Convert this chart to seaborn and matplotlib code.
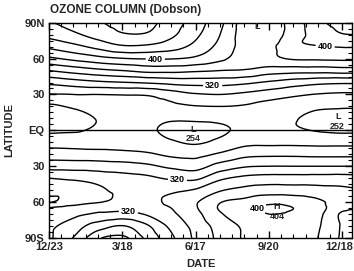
import numpy as np
import matplotlib
matplotlib.use("Agg")
import matplotlib.pyplot as plt
import matplotlib.tri as mtri
import matplotlib.transforms as mtrans
import seaborn as sns

# ---- data ----
# time axis in half-month steps from 12/23
times = [0, 2, 4, 6, 8, 10, 12, 14, 16, 18, 20, 22, 24, 25]
lats = [90, 80, 70, 60, 50, 40, 30, 20, 10, 0, -10, -20, -30, -40, -50, -60, -65, -70, -80, -90]
ozone = [
    [438, 448, 458, 466, 466, 450, 430, 405, 372, 370, 388, 415, 425, 426],   # 90N
    [426, 436, 448, 458, 458, 444, 424, 400, 372, 372, 388, 410, 419, 420],   # 80
    [404, 414, 426, 437, 436, 428, 414, 394, 374, 376, 394, 399, 401, 401],   # 70
    [376, 385, 393, 399, 401, 401, 396, 384, 372, 376, 382, 383, 384, 384],   # 60
    [340, 348, 355, 360, 366, 366, 363, 360, 358, 350, 348, 348, 350, 350],   # 50
    [305, 311, 316, 319, 322, 326, 328, 328, 324, 317, 310, 305, 303, 303],   # 40
    [279, 280, 280, 281, 282, 290, 298, 300, 296, 290, 284, 279, 277, 277],   # 30
    [257, 262, 266, 268, 270, 275, 279, 280, 278, 272, 266, 263, 262, 262],   # 20
    [254, 256, 260.5, 264, 264, 262, 263, 264, 266, 264, 261, 256, 253, 253], # 10
    [257, 258.5, 262, 264, 262, 257, 255, 258, 263, 264, 262, 259, 257, 257], # EQ
    [272, 271, 270, 270, 267, 262, 258, 264, 274, 275, 275, 274, 274, 274],   # 10S
    [290, 289, 288, 286, 283, 276, 274, 283, 294, 296, 296, 295, 295, 295],   # 20S
    [312, 311, 310, 308, 304, 296, 292, 308, 318, 320, 320, 320, 320, 320],   # 30S
    [340, 337, 333, 328, 324, 318, 316, 336, 345, 348, 348, 348, 348, 347],   # 40S
    [352, 350, 343, 336, 332, 336, 342, 358, 366, 370, 369, 367, 364, 362],   # 50S
    [361, 352, 341, 336, 333, 345, 358, 379, 386, 395, 393, 384, 372, 368],   # 60S
    [339, 330, 324, 326, 328, 340, 358, 382, 393, 405, 400, 388, 365, 361],   # 65S
    [333, 325, 318, 314, 322, 336, 354, 378, 390, 400, 396, 385, 357, 354],   # 70S
    [325, 310, 290, 279, 297, 325, 347, 368, 383, 390, 389, 382, 358, 352],   # 80S
    [324, 299, 263, 255, 284, 316, 344, 365, 382, 388, 387, 380, 357, 350],   # 90S
]
levels = [260, 280, 300, 320, 340, 360, 380, 400, 420, 440, 460]
date_labels = ["12/23", "3/18", "6/17", "9/20", "12/18"]
date_pos = [0, 6, 12, 18, 24]
lat_labels = ["90S", "60", "30", "EQ", "30", "60", "90N"]
lat_pos = [-90, -60, -30, 0, 30, 60, 90]
# labelled contours: level -> label anchors (date, latitude)
label_anchor = {320: [(13.4, 37.0), (10.5, -43.0), (6.5, -67.6)],
                400: [(8.7, 58.8), (22.6, 70.0), (16.6, -65.0)]}
extrema = [("L", 11.8, 1.0), ("254", 11.8, -7.2), ("L", 23.7, 11.4), ("252", 23.6, 3.4),
           ("H", 18.6, -63.8), ("404", 18.7, -71.8), ("L", 17.0, 86.5)]

# ---- style ----
sns.set_style("ticks")
plt.rcParams["font.family"] = ["Liberation Sans", "DejaVu Sans"]
plt.rcParams["font.weight"] = "bold"

fig = plt.figure(figsize=(3.54, 2.71), dpi=100)
ax = fig.add_axes([0.1384, 0.1218, 0.8560, 0.7944])

T, L = np.meshgrid(np.array(times, float), np.array(lats, float))
Z = np.array(ozone, float)
sx = 5.0
tri = mtri.Triangulation(T.ravel() * sx, L.ravel())
refiner = mtri.UniformTriRefiner(tri)
interp = mtri.CubicTriInterpolator(tri, Z.ravel(), kind="geom")
tri_r, z_r = refiner.refine_field(Z.ravel(), triinterpolator=interp, subdiv=3)
tri_plot = mtri.Triangulation(tri_r.x / sx, tri_r.y, tri_r.triangles)

plain = [lv for lv in levels if lv not in label_anchor]
ax.tricontour(tri_plot, z_r, levels=plain, colors="black", linewidths=1.0)
for lv, anchors in label_anchor.items():
    cs = ax.tricontour(tri_plot, z_r, levels=[lv], colors="black", linewidths=1.0)
    labs = ax.clabel(cs, manual=anchors, fmt="%d", fontsize=6.5, inline=True,
                     inline_spacing=2)
    for lab in labs:
        lab.set_rotation(0)
for txt, tx, ty in extrema:
    ax.text(tx, ty, txt, ha="center", va="center", fontsize=6.5, fontweight="bold")

ax.axhline(0, color="black", lw=1.0)

ax.set_xlim(0, 24.8)
ax.set_ylim(-90, 90)
ax.set_xticks(date_pos)
ax.set_xticklabels(date_labels)
ax.set_xticks(np.arange(0, 25, 1), minor=True)
ax.set_yticks(lat_pos)
ax.set_yticklabels(lat_labels)
ax.set_yticks(np.arange(-90, 91, 5), minor=True)
ax.tick_params(which="both", direction="in", top=True, right=True, color="black",
               labelsize=8, pad=3)
ax.tick_params(which="major", length=5, width=1.0)
ax.tick_params(which="minor", length=3, width=0.8)
for s in ax.spines.values():
    s.set_linewidth(1.0)
    s.set_color("black")

# nudge the last date label so it stays inside the figure
last = ax.get_xticklabels()[-1]
last.set_transform(last.get_transform() +
                   mtrans.ScaledTranslation(-3 / 100, 0, fig.dpi_scale_trans))

ax.set_xlabel("DATE", fontsize=8, fontweight="bold", labelpad=5)
ax.set_ylabel("LATITUDE", fontsize=8, fontweight="bold", labelpad=7)
fig.text(0.141, 0.985, "OZONE COLUMN (Dobson)", ha="left", va="top", fontsize=8.5,
         fontweight="bold")

fig.savefig("out.png", dpi=100)
